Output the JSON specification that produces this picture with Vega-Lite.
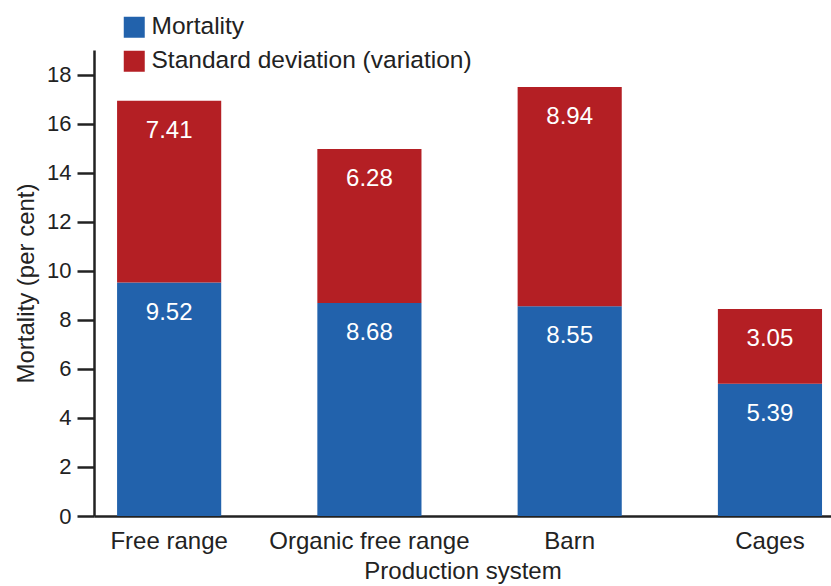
{
  "$schema": "https://vega.github.io/schema/vega-lite/v6.json",
  "autosize": {"type": "none"},
  "width": 737,
  "height": 466,
  "padding": {"left": 94, "top": 50, "right": 0, "bottom": 70},
  "background": "white",
  "config": {
    "font": "Liberation Sans",
    "view": {"stroke": null}
  },
  "data": {
    "values": [
      {"system": "Free range", "series": "Mortality", "order": 1, "value": 9.52},
      {"system": "Free range", "series": "Standard deviation (variation)", "order": 2, "value": 7.41},
      {"system": "Organic free range", "series": "Mortality", "order": 1, "value": 8.68},
      {"system": "Organic free range", "series": "Standard deviation (variation)", "order": 2, "value": 6.28},
      {"system": "Barn", "series": "Mortality", "order": 1, "value": 8.55},
      {"system": "Barn", "series": "Standard deviation (variation)", "order": 2, "value": 8.94},
      {"system": "Cages", "series": "Mortality", "order": 1, "value": 5.39},
      {"system": "Cages", "series": "Standard deviation (variation)", "order": 2, "value": 3.05}
    ]
  },
  "encoding": {
    "x": {
      "field": "system",
      "type": "nominal",
      "sort": ["Free range", "Organic free range", "Barn", "Cages"],
      "scale": {"paddingInner": 0.48, "paddingOuter": 0.08, "align": 0.72},
      "axis": {
        "title": "Production system",
        "titleFontSize": 24,
        "titleFontWeight": "normal",
        "titleColor": "#222",
        "titlePadding": 6,
        "labelAngle": 0,
        "labelFontSize": 24,
        "labelColor": "#222",
        "labelPadding": 13,
        "labelLimit": 0,
        "ticks": false,
        "domainColor": "#222",
        "domainWidth": 2.5
      }
    },
    "y": {
      "field": "value",
      "type": "quantitative",
      "stack": "zero",
      "scale": {"domain": [0, 19], "nice": false},
      "axis": {
        "title": "Mortality (per cent)",
        "titleFontSize": 24,
        "titleFontWeight": "normal",
        "titleColor": "#222",
        "titlePadding": 8,
        "values": [0, 2, 4, 6, 8, 10, 12, 14, 16, 18],
        "labelFontSize": 22,
        "labelColor": "#222",
        "labelPadding": 6,
        "tickSize": 17,
        "tickWidth": 2.5,
        "tickColor": "#222",
        "domainColor": "#222",
        "domainWidth": 2.5,
        "grid": false
      }
    },
    "order": {"field": "order", "type": "quantitative"}
  },
  "layer": [
    {
      "mark": {"type": "bar"},
      "encoding": {
        "color": {
          "field": "series",
          "type": "nominal",
          "scale": {
            "domain": ["Mortality", "Standard deviation (variation)"],
            "range": ["#2262ac", "#b41f24"]
          },
          "legend": {
            "title": null,
            "orient": "none",
            "legendX": 28,
            "legendY": -35,
            "symbolType": "square",
            "symbolSize": 441,
            "symbolStrokeWidth": 0,
            "symbolOpacity": 1,
            "labelFontSize": 24.5,
            "labelColor": "#222",
            "labelOffset": 5,
            "labelLimit": 0,
            "rowPadding": 9
          }
        }
      }
    },
    {
      "mark": {"type": "text", "baseline": "top", "dy": 18, "fontSize": 24, "color": "white"},
      "encoding": {
        "text": {"field": "value", "type": "quantitative", "format": ".2f"}
      }
    }
  ]
}
